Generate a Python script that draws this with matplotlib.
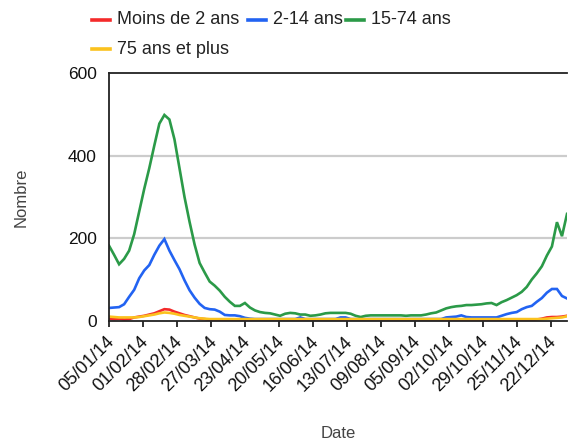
import numpy as np
import pandas as pd
import matplotlib
matplotlib.use('Agg')
import matplotlib.pyplot as plt
import matplotlib.transforms as mtransforms
from matplotlib.lines import Line2D

plt.rcParams['font.family'] = ['Liberation Sans', 'DejaVu Sans']

# one value every 4 days, from 05/01/14
start = '2014-01-05'
step_days = 4

moins2 = [5, 4, 5, 3, 4, 8, 10, 12, 15, 18,
          23, 28, 27, 22, 18, 14, 11, 8, 5, 4] + [2] * 65 + \
         [3, 5, 8, 9, 9, 10, 12]

ans2_14 = [31, 32, 33, 40, 58, 75, 103, 122, 135, 160,
           182, 198, 170, 147, 125, 98, 74, 56, 41, 31,
           28, 27, 22, 14, 13, 13, 11, 7, 5, 4,
           4, 4, 4, 4, 4, 4, 4, 4, 8, 4,
           4, 4, 4, 4, 4, 4, 8, 8, 4, 4,
           4, 4, 4, 4, 4, 4, 4, 4, 4, 4,
           4, 4, 4, 4, 4, 4, 4, 8, 9, 10,
           13, 9, 8, 8, 8, 8, 8, 8, 12, 16,
           19, 21, 28, 33, 36, 46, 55, 68, 77, 77,
           60, 54]

ans15_74 = [182, 160, 137, 150, 170, 210, 265, 320, 370, 425,
            478, 499, 488, 440, 370, 300, 240, 185, 140, 117,
            95, 85, 73, 58, 46, 36, 36, 43, 32, 25,
            21, 19, 18, 15, 12, 17, 19, 18, 15, 15,
            12, 13, 15, 18, 19, 19, 19, 19, 17, 12,
            9, 12, 13, 13, 13, 13, 13, 13, 13, 12,
            13, 13, 13, 15, 18, 20, 25, 30, 33, 35,
            36, 38, 38, 39, 40, 42, 43, 38, 45, 50,
            56, 62, 70, 82, 100, 115, 132, 158, 180, 239,
            205, 259]

ans75 = [10, 9, 8, 8, 8, 8, 9, 11, 13, 15,
         18, 20, 19, 17, 14, 12, 10, 8, 6, 5] + [4] * 67 + \
        [5, 6, 7, 8, 11]

labels = ['Moins de 2 ans', '2-14 ans', '15-74 ans', '75 ans et plus']
colors = ['#f42a2a', '#2263f2', '#2b9a48', '#fbc21e']

tick_labels = ['05/01/14', '01/02/14', '28/02/14', '27/03/14', '23/04/14',
               '20/05/14', '16/06/14', '13/07/14', '09/08/14', '05/09/14',
               '02/10/14', '29/10/14', '25/11/14', '22/12/14']

dates = pd.date_range(start, periods=len(ans15_74), freq='%dD' % step_days)
ticks = pd.date_range(start, periods=len(tick_labels), freq='27D')

fig = plt.figure(figsize=(5.69, 4.43), dpi=100)
ax = fig.add_axes([0.1916, 0.276, 0.8049, 0.5585])

for ys, c in zip([moins2, ans2_14, ans15_74, ans75], colors):
    ax.plot(dates, ys, color=c, lw=1.9, solid_joinstyle='miter')

ax.set_xlim(dates[0], dates[-1])
ax.set_ylim(0, 600)
ax.set_yticks([0, 200, 400, 600])
ax.set_yticklabels(['0', '200', '400', '600'], fontsize=12.5, color='#111111')
ax.tick_params(axis='y', length=0, pad=9)
for v in [200, 400]:
    ax.axhline(v, color='#cccccc', lw=1.6, zorder=0)

ax.set_xticks(ticks)
ax.set_xticklabels(tick_labels, rotation=45, ha='right', va='top',
                   rotation_mode='anchor', fontsize=13, color='#111111')
ax.tick_params(axis='x', length=4, width=1.3, color='#222222', pad=5)
shift = mtransforms.ScaledTranslation(-3 / 100, 0, fig.dpi_scale_trans)
for t in ax.get_xticklabels():
    t.set_transform(t.get_transform() + shift)

ax.spines['right'].set_visible(False)
for s in ['left', 'bottom', 'top']:
    ax.spines[s].set_linewidth(1.3)
    ax.spines[s].set_color('#222222')

ax.set_ylabel('Nombre', fontsize=12, color='#444444', labelpad=28)
fig.text(0.594, 0.012, 'Date', fontsize=12, color='#444444', ha='center')

# legend drawn by hand, two rows like the original
W, H = 569.0, 443.0
rows = [(20, [(92, 0), (248, 1), (346, 2)]), (49, [(92, 3)])]
for y, items in rows:
    for x, i in items:
        fig.add_artist(Line2D([x / W, (x + 18) / W], [1 - y / H, 1 - y / H],
                              color=colors[i], lw=2.6))
        fig.text((x + 25) / W, 1 - y / H, labels[i], fontsize=13,
                 color='#222222', va='center')

fig.savefig('out.png', dpi=100)
